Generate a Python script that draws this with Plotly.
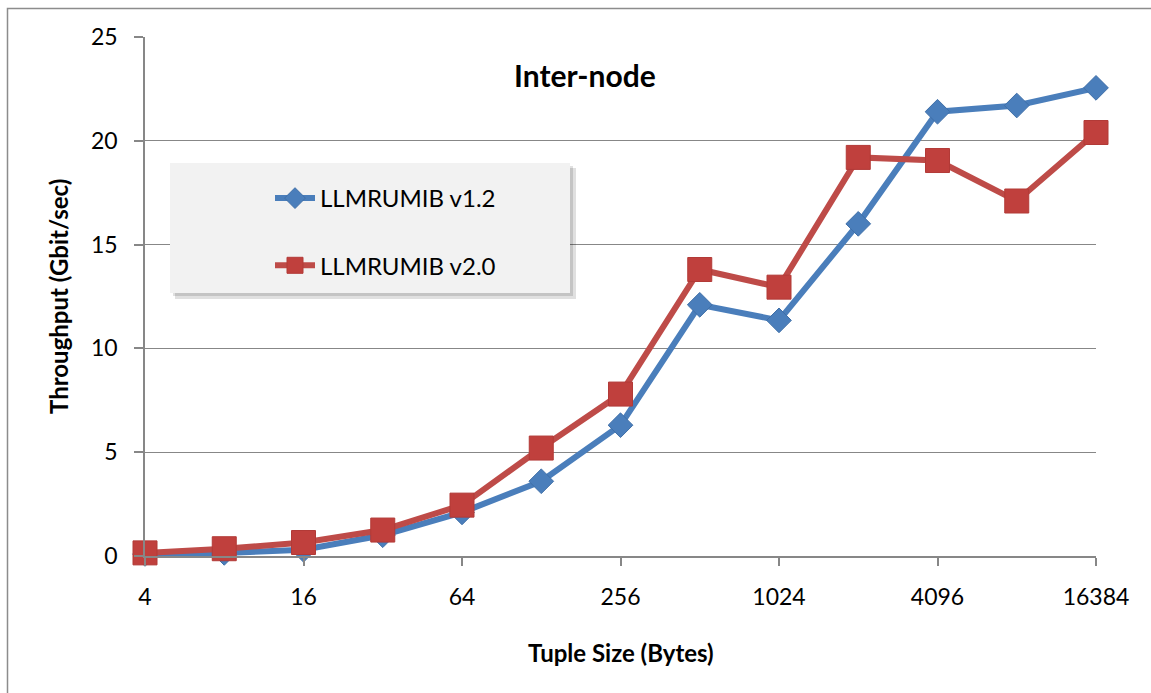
import plotly.graph_objects as go

tuple_sizes = [4, 8, 16, 32, 64, 128, 256, 512, 1024, 2048, 4096, 8192, 16384]
v12 = [0.1, 0.15, 0.3, 1.0, 2.1, 3.6, 6.3, 12.1, 11.35, 16.0, 21.4, 21.7, 22.55]
v20 = [0.15, 0.35, 0.65, 1.25, 2.45, 5.2, 7.8, 13.8, 12.95, 19.2, 19.05, 17.1, 20.4]
x_ticks = [4, 16, 64, 256, 1024, 4096, 16384]
y_ticks = [0, 5, 10, 15, 20, 25]

BLUE = "#4a7ebb"
RED = "#be4b48"
GRID = "#878787"
FONT = "Lato, 'Open Sans', sans-serif"

W, H = 1151, 693
L, R, T, B = 145, 55, 37, 137
pw, ph = W - L - R, H - T - B


def px(xp):
    return (xp - L) / pw


def py(yp):
    return (H - B - yp) / ph


fig = go.Figure()
fig.add_trace(go.Scatter(
    x=tuple_sizes, y=v12, name="LLMRUMIB v1.2", mode="lines+markers",
    line=dict(color=BLUE, width=6),
    marker=dict(symbol="diamond", size=19, color=BLUE, line=dict(color="#3f6fa8", width=1)),
    legendgroup="a", cliponaxis=False,
))
fig.add_trace(go.Scatter(
    x=tuple_sizes, y=v20, name="LLMRUMIB v2.0", mode="lines+markers",
    line=dict(color=RED, width=6),
    marker=dict(symbol="square", size=24, color="#c0403d", line=dict(color="#b23a37", width=1)),
    legendgroup="b", cliponaxis=False,
))

shapes = [
    # outer frame
    dict(type="rect", xref="paper", yref="paper", x0=px(7.5), x1=px(1170), y0=py(720), y1=py(8.5),
         line=dict(color="#8c8c8c", width=1.5), fillcolor="rgba(0,0,0,0)", layer="below"),
    # legend shadow
    dict(type="rect", xref="paper", yref="paper", x0=px(175), x1=px(576), y0=py(299), y1=py(168),
         line=dict(width=0), fillcolor="rgba(0,0,0,0.12)", layer="above"),
    dict(type="rect", xref="paper", yref="paper", x0=px(173), x1=px(573), y0=py(296), y1=py(166),
         line=dict(width=0), fillcolor="rgba(0,0,0,0.12)", layer="above"),
    # legend box
    dict(type="rect", xref="paper", yref="paper", x0=px(170), x1=px(570), y0=py(293), y1=py(163),
         line=dict(width=0), fillcolor="#f2f2f2", layer="above"),
]

fig.update_layout(
    width=W, height=H,
    margin=dict(l=L, r=R, t=T, b=B, autoexpand=False),
    paper_bgcolor="white", plot_bgcolor="white",
    font=dict(family=FONT, color="black", size=23),
    showlegend=True,
    legend=dict(
        x=px(270), y=py(176), xanchor="left", yanchor="top",
        bgcolor="rgba(0,0,0,0)", font=dict(size=24, family=FONT),
        traceorder="grouped", tracegroupgap=33, itemwidth=40,
    ),
    shapes=shapes,
    annotations=[
        dict(text="<b>Inter-node</b>", xref="paper", yref="paper", x=px(585), y=py(75),
             xanchor="center", yanchor="middle", showarrow=False, font=dict(size=30, family=FONT)),
        dict(text="<b>Tuple Size (Bytes)</b>", xref="paper", yref="paper", x=px(621), y=py(652),
             xanchor="center", yanchor="middle", showarrow=False, font=dict(size=24, family=FONT)),
        dict(text="<b>Throughput (Gbit/sec)</b>", xref="paper", yref="paper", x=px(58), y=py(297),
             xanchor="center", yanchor="middle", showarrow=False, textangle=-90,
             font=dict(size=24, family=FONT)),
    ],
)

fig.update_xaxes(
    type="log", range=[0.602055, 4.214425], tickvals=x_ticks, ticktext=[str(v) for v in x_ticks],
    showgrid=False, showline=True, linecolor=GRID, linewidth=1.5,
    ticks="outside", ticklen=8, tickcolor=GRID, tickwidth=1.5,
    ticklabelstandoff=12, tickfont=dict(size=23), zeroline=False,
)
fig.update_yaxes(
    range=[0, 25], tickvals=y_ticks, showgrid=True, gridcolor=GRID, gridwidth=1.2,
    showline=True, linecolor=GRID, linewidth=1.5,
    ticks="outside", ticklen=9, tickcolor=GRID, tickwidth=1.5,
    ticklabelstandoff=12, tickfont=dict(size=23), zeroline=False,
)

fig.write_html("out.html")
